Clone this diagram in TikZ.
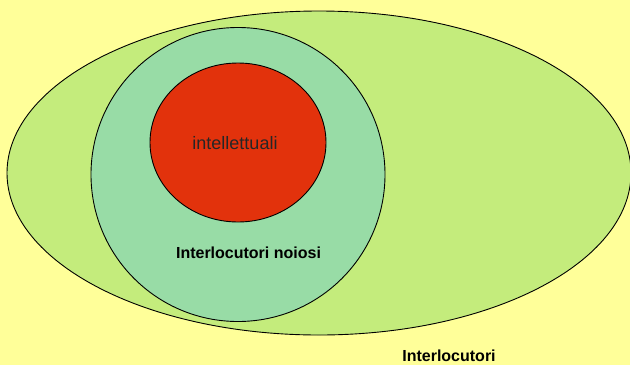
\documentclass[tikz,border=0pt]{standalone}
\usepackage{fontspec}
\setmainfont{Liberation Sans}
\usetikzlibrary{shapes.geometric}
\definecolor{bgyellow}{HTML}{FFFF99}
\definecolor{outergreen}{HTML}{C4EC7C}
\definecolor{midteal}{HTML}{98DCA6}
\definecolor{innerred}{HTML}{E2320C}
\tikzset{
  region/.style={ellipse, draw=black, line width=0.9pt, inner sep=0pt},
  lbl/.style={font=\fontsize{16}{18}\selectfont\bfseries, text=black, inner sep=0pt}
}
\begin{document}
\begin{tikzpicture}[x=1pt,y=-1pt]
\fill[bgyellow] (0,0) rectangle (630,365);
\useasboundingbox (0,0) rectangle (630,365);
\node[region, fill=outergreen, minimum width=624pt, minimum height=324pt] (outer) at (319,173) {};
\node[region, fill=midteal, minimum width=294pt, minimum height=294pt] (mid) at (238,174.5) {};
\node[region, fill=innerred, minimum width=176pt, minimum height=159pt] (inner) at (238,142.5) {};
\node[inner sep=0pt, font=\fontsize{18}{20}\selectfont, text=black!85] (tint) at (235,143) {intellettuali};
\node[lbl] (tnoi) at (248.5,253) {Interlocutori noiosi};
\node[lbl] (tall) at (449,356) {Interlocutori};
\end{tikzpicture}
\end{document}
